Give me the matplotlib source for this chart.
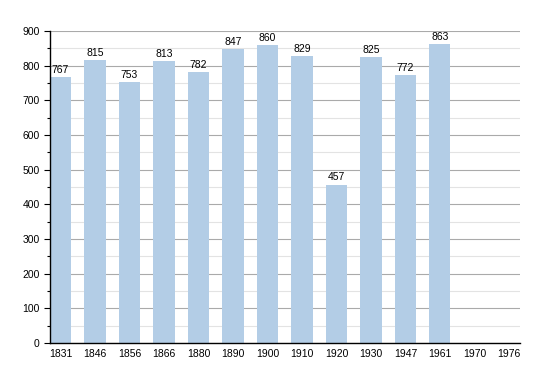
import matplotlib
matplotlib.use("Agg")
import matplotlib.pyplot as plt
from matplotlib.ticker import MultipleLocator

plt.rcParams['font.family'] = ['Liberation Sans', 'DejaVu Sans']

years = ["1831", "1846", "1856", "1866", "1880", "1890", "1900", "1910", "1920", "1930", "1947", "1961", "1970", "1976"]
population = [767, 815, 753, 813, 782, 847, 860, 829, 457, 825, 772, 863, None, None]

fig = plt.figure(figsize=(5.5, 3.73), dpi=100)
ax = fig.add_axes([50/550, 30/373, 470/550, 312/373])

xs = list(range(len(years)))
for x, v in zip(xs, population):
    if v is None:
        continue
    ax.bar(x, v, width=0.61, color='#b3cde6', zorder=2)
    ax.text(x, v + 6, str(v), ha='center', va='bottom', fontsize=7.5, color='black', zorder=3)

ax.set_xlim(-0.305, 13.32)
ax.set_ylim(0, 900)
ax.set_xticks(xs)
ax.set_xticklabels(years, fontsize=7.5)
ax.yaxis.set_major_locator(MultipleLocator(100))
ax.yaxis.set_minor_locator(MultipleLocator(50))
ax.tick_params(axis='y', which='major', labelsize=7.5, length=4, width=0.8)
ax.tick_params(axis='y', which='minor', length=2, width=0.8)
ax.tick_params(axis='x', length=0, pad=4)
ax.grid(axis='y', which='major', color='#aaaaaa', linewidth=0.8, zorder=0)
ax.grid(axis='y', which='minor', color='#e3e3e3', linewidth=0.8, zorder=0)
ax.set_axisbelow(True)
for s in ['top', 'right']:
    ax.spines[s].set_visible(False)
ax.spines['left'].set_linewidth(1.0)
ax.spines['bottom'].set_linewidth(1.0)

fig.savefig("out.png", dpi=100)
